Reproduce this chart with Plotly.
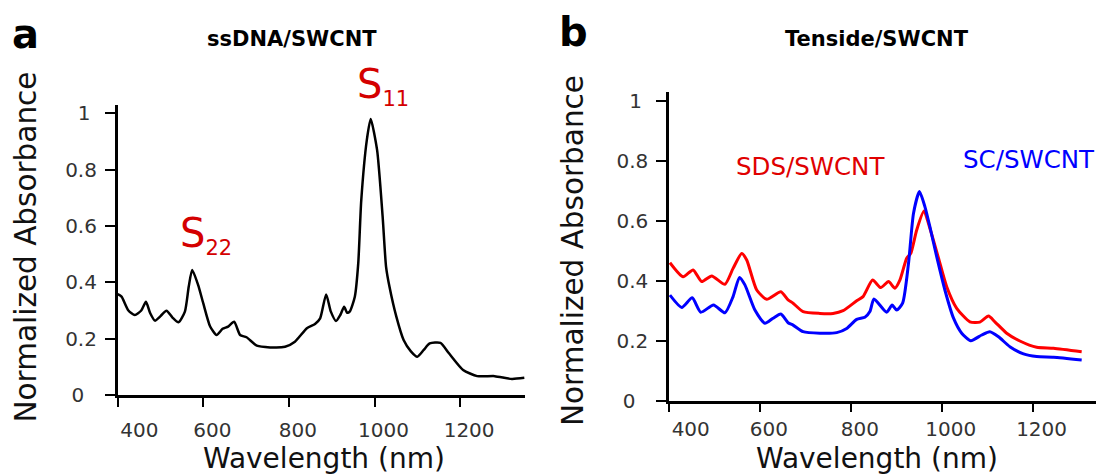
import plotly.graph_objects as go

# ---------------- data ----------------
wl_a = [400, 409, 425, 440, 455, 466, 476, 487, 500, 514, 528, 542, 557, 566, 574, 588,
        600, 616, 631, 645, 658, 672, 686, 701, 725, 756, 791, 814, 842, 861, 873, 887,
        898, 910, 920, 929, 936, 942, 954, 962, 969, 982, 991, 1006, 1019, 1027, 1035,
        1051, 1068, 1085, 1100, 1115, 1129, 1154, 1174, 1207, 1240, 1281, 1321, 1350]
abs_dna = [0.358, 0.349, 0.300, 0.284, 0.300, 0.331, 0.290, 0.264, 0.280, 0.299, 0.275,
           0.258, 0.296, 0.385, 0.444, 0.390, 0.325, 0.243, 0.213, 0.235, 0.243, 0.260,
           0.213, 0.205, 0.175, 0.169, 0.171, 0.189, 0.237, 0.252, 0.272, 0.357, 0.296,
           0.263, 0.284, 0.313, 0.292, 0.296, 0.349, 0.467, 0.690, 0.905, 0.980, 0.870,
           0.633, 0.455, 0.384, 0.278, 0.195, 0.155, 0.136, 0.160, 0.183, 0.185, 0.148,
           0.089, 0.067, 0.067, 0.057, 0.061]

wl_sds = [402, 431, 453, 472, 494, 523, 541, 560, 571, 593, 615, 646, 662, 673, 695, 732,
          761, 783, 813, 827, 848, 866, 883, 897, 908, 923, 932, 945, 961, 974, 993, 1011,
          1033, 1062, 1084, 1103, 1117, 1143, 1172, 1209, 1246, 1308]
abs_sds = [0.460, 0.413, 0.436, 0.397, 0.416, 0.388, 0.441, 0.491, 0.469, 0.369, 0.338,
           0.363, 0.336, 0.325, 0.297, 0.291, 0.291, 0.300, 0.333, 0.347, 0.402, 0.377,
           0.397, 0.375, 0.402, 0.475, 0.491, 0.569, 0.632, 0.575, 0.475, 0.380, 0.308,
           0.263, 0.262, 0.282, 0.263, 0.225, 0.199, 0.178, 0.175, 0.163]

wl_sc = [402, 428, 451, 470, 498, 523, 541, 555, 567, 589, 611, 629, 646, 662, 673, 695,
         732, 769, 791, 813, 831, 842, 851, 879, 891, 901, 914, 927, 938, 951, 963, 974,
         989, 1007, 1026, 1044, 1064, 1088, 1106, 1125, 1150, 1180, 1209, 1246, 1308]
abs_sc = [0.352, 0.311, 0.343, 0.295, 0.319, 0.293, 0.347, 0.411, 0.386, 0.302, 0.258,
          0.275, 0.289, 0.260, 0.252, 0.230, 0.225, 0.227, 0.241, 0.271, 0.278, 0.297,
          0.339, 0.295, 0.319, 0.302, 0.325, 0.458, 0.625, 0.697, 0.647, 0.580, 0.480,
          0.369, 0.275, 0.225, 0.200, 0.219, 0.230, 0.213, 0.180, 0.156, 0.147, 0.145,
          0.136]

x_ticks = [400, 600, 800, 1000, 1200]
x_ticktext = ["\u2007\u2007400", "600", "800", "1000", "1200"]
y_ticks = [0, 0.2, 0.4, 0.6, 0.8, 1]
y_ticktext = ["0\u2007", "0.2", "0.4", "0.6", "0.8", "1\u2008"]

FONT = "DejaVu Sans"
W, H = 1096, 475

fig = go.Figure()
fig.add_trace(go.Scatter(x=wl_a, y=abs_dna, mode="lines", xaxis="x", yaxis="y",
                         line=dict(color="black", width=2.5, shape="spline", smoothing=0.6),
                         showlegend=False))
fig.add_trace(go.Scatter(x=wl_sds, y=abs_sds, mode="lines", xaxis="x2", yaxis="y2",
                         line=dict(color="#ff0000", width=3, shape="spline", smoothing=0.6),
                         showlegend=False))
fig.add_trace(go.Scatter(x=wl_sc, y=abs_sc, mode="lines", xaxis="x2", yaxis="y2",
                         line=dict(color="#0000ff", width=3, shape="spline", smoothing=0.6),
                         showlegend=False))

def xax(domain, rng, anchor, standoff):
    return dict(domain=domain, range=rng, anchor=anchor, automargin=False,
                showline=True, linecolor="black",
                linewidth=2.5, ticks="outside", ticklen=9, tickwidth=2, tickcolor="black",
                tickvals=x_ticks, ticktext=x_ticktext, showgrid=False, zeroline=False,
                tickfont=dict(family=FONT, size=20, color="#333"),
                ticklabelshift=9, ticklabelstandoff=standoff)

def yax(domain, rng, anchor):
    return dict(domain=domain, range=rng, anchor=anchor, automargin=False,
                showline=True, linecolor="black",
                linewidth=2.5, ticks="outside", ticklen=10, tickwidth=2, tickcolor="black",
                tickvals=y_ticks, ticktext=y_ticktext, showgrid=False, zeroline=False,
                tickfont=dict(family=FONT, size=20, color="#333"), ticklabelstandoff=4)

def px_x(p):
    return p / W

def px_y(p):
    return 1 - p / H

fig.update_layout(
    width=W, height=H, margin=dict(l=0, r=0, t=0, b=0, pad=0),
    paper_bgcolor="white", plot_bgcolor="white",
    font=dict(family=FONT),
    xaxis=xax([px_x(117.7), px_x(525)], [400, 1351.6], "y", 6),
    yaxis=yax([px_y(395), px_y(105)], [0, 1.0295], "x"),
    xaxis2=xax([px_x(669), 1.0], [400, 1339.5], "y2", 0),
    yaxis2=yax([px_y(400.7), px_y(92.3)], [0, 1.028], "x2"),
)

ann = []
def text(x, y, s, size, color="black", bold=False, angle=0, xanchor="center", yanchor="middle"):
    ann.append(dict(x=px_x(x), y=px_y(y), xref="paper", yref="paper", text=s,
                    showarrow=False, textangle=angle, xanchor=xanchor, yanchor=yanchor,
                    font=dict(family=FONT, size=size, color=color,
                              weight="bold" if bold else "normal")))

# panel letters and titles
text(25, 34, "a", 40, bold=True)
text(573, 32, "b", 40, bold=True)
text(292, 39, "ssDNA/SWCNT", 21, bold=True)
text(877, 39, "Tenside/SWCNT", 21, bold=True)
# axis titles
text(25.5, 247, "Normalized Absorbance", 29.5, color="#111", angle=-90)
text(573, 251, "Normalized Absorbance", 29.5, color="#111", angle=-90)
text(324, 458.5, "Wavelength (nm)", 28, color="#111")
text(877, 458.5, "Wavelength (nm)", 28, color="#111")
# peak labels
red = "#d40000"
text(355, 86, "S<sub><span style='font-size:21px'>11</span></sub>", 40, color=red, xanchor="left")
text(177.5, 235, "S<sub><span style='font-size:21px'>22</span></sub>", 40, color=red, xanchor="left")
# series labels
text(810, 166, "SDS/SWCNT", 24.5, color="#e00000")
text(1029, 159, "SC/SWCNT", 24.5, color="#0000ff")

fig.update_layout(annotations=ann)
fig.write_html("out.html", config={"displayModeBar": False},
               post_script="document.body.style.margin='0';")
